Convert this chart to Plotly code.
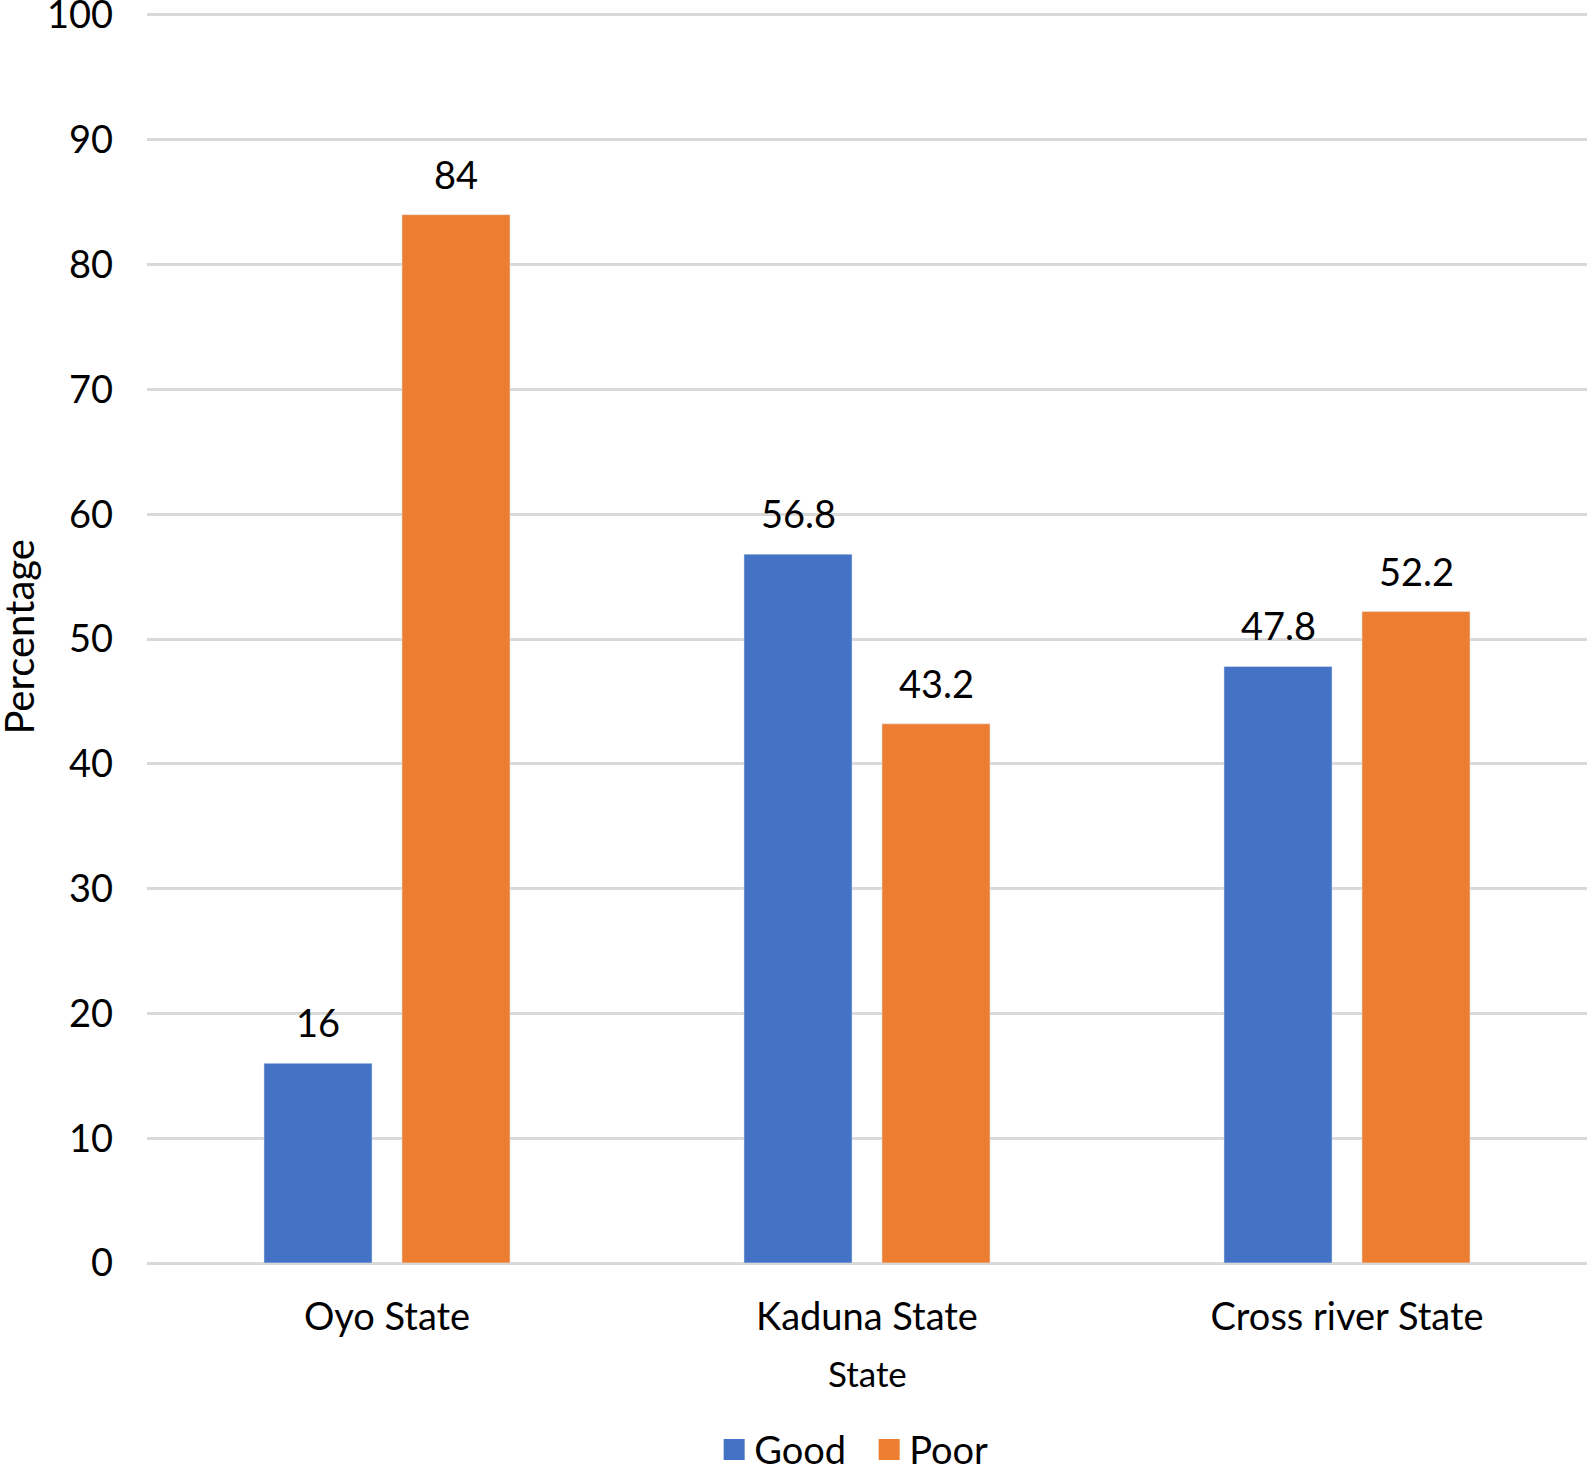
import plotly.graph_objects as go

categories = ["Oyo State", "Kaduna State", "Cross river State"]
good = [16, 56.8, 47.8]
poor = [84, 43.2, 52.2]
y_ticks = [0, 10, 20, 30, 40, 50, 60, 70, 80, 90, 100]

BLUE = "#4472C4"
ORANGE = "#ED7D31"
FONT = "Lato, Carlito, Calibri, sans-serif"
FS = 38

fig = go.Figure()
fig.add_trace(go.Bar(name="Good", x=categories, y=good, marker_color=BLUE, showlegend=False))
fig.add_trace(go.Bar(name="Poor", x=categories, y=poor, marker_color=ORANGE, showlegend=False))
# legend entries with larger square swatches
fig.add_trace(go.Scatter(name="Good", x=[None], y=[None], mode="markers",
                         marker=dict(symbol="square", size=16, color=BLUE,
                                     line=dict(width=5, color=BLUE))))
fig.add_trace(go.Scatter(name="Poor", x=[None], y=[None], mode="markers",
                         marker=dict(symbol="square", size=16, color=ORANGE,
                                     line=dict(width=5, color=ORANGE))))

annotations = []
for vals, shift in ((good, -69), (poor, 69)):
    for c, v in zip(categories, vals):
        annotations.append(dict(x=c, y=v, xref="x", yref="y", text=f"{v:g}",
                                showarrow=False, xshift=shift, yshift=16,
                                yanchor="bottom", font=dict(size=FS, color="black", family=FONT)))
annotations.append(dict(x=0.5, y=-0.088, xref="paper", yref="paper", text="State",
                        showarrow=False, yanchor="middle", xanchor="center",
                        font=dict(size=35, color="black", family=FONT)))
annotations.append(dict(x=-0.0895, y=0.5, xref="paper", yref="paper", text="Percentage",
                        showarrow=False, yanchor="middle", xanchor="center", textangle=-90,
                        font=dict(size=40, color="black", family=FONT)))

fig.update_layout(
    width=1592, height=1473,
    margin=dict(l=147, r=5, t=10, b=210, autoexpand=False),
    paper_bgcolor="white", plot_bgcolor="white",
    barmode="group", bargap=0.425, bargroupgap=0.217,
    font=dict(family=FONT, size=FS, color="black"),
    showlegend=True,
    legend=dict(orientation="h", x=0.5015, xanchor="center", y=-0.149, yanchor="middle",
                font=dict(size=FS, family=FONT), itemwidth=30, tracegroupgap=0,
                entrywidth=110, entrywidthmode="pixels"),
    annotations=annotations,
)
fig.update_xaxes(showgrid=False, showline=False, ticks="", ticklabelstandoff=28,
                 automargin=False, tickfont=dict(size=FS, family=FONT))
fig.update_yaxes(range=[0, 100.4], tickvals=y_ticks, showgrid=True, gridcolor="#d9d9d9",
                 gridwidth=3, zeroline=True, zerolinecolor="#d9d9d9", zerolinewidth=3,
                 showline=False, ticks="", ticklabelstandoff=33, automargin=False,
                 ticklabeloverflow="allow", tickfont=dict(size=FS, family=FONT))

fig.write_html("out.html", config={"displayModeBar": False},
               post_script="document.body.style.margin='0';document.body.style.padding='0';")
